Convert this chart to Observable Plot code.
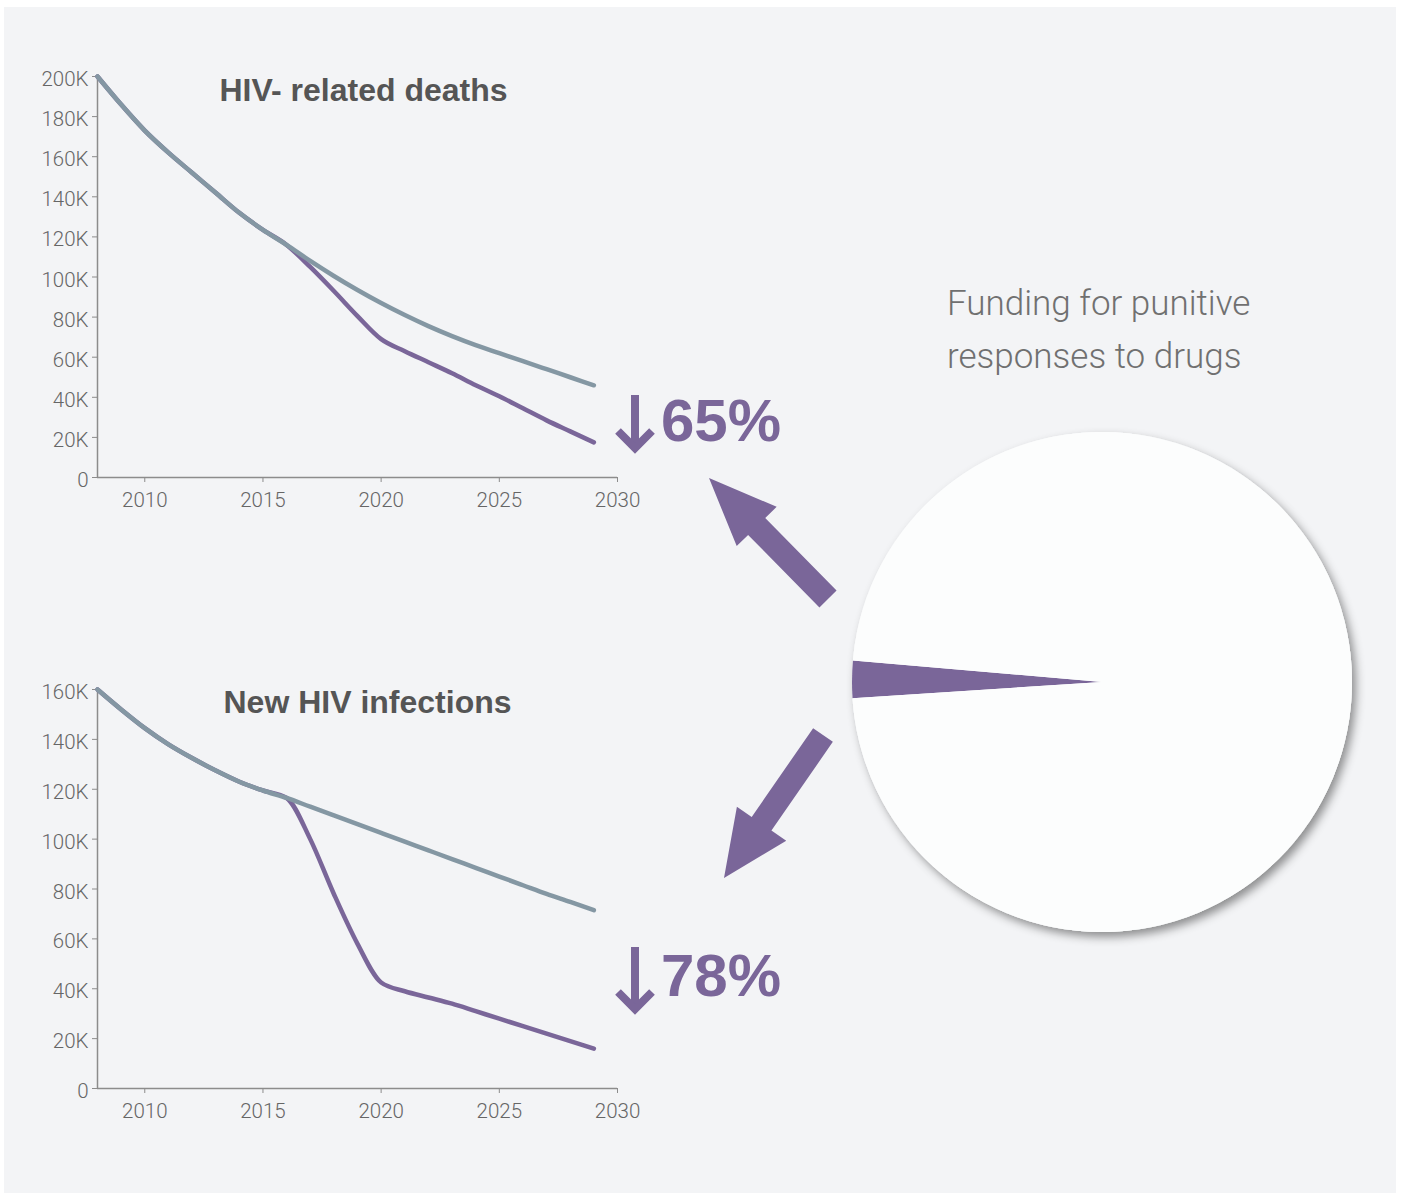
<!DOCTYPE html>
<html><head><meta charset="utf-8">
<script src="https://cdn.jsdelivr.net/npm/d3@7"></script>
<script src="https://cdn.jsdelivr.net/npm/@observablehq/plot@0.6"></script>
<style>
html,body{margin:0;padding:0;background:#fff;}
#root{position:relative;width:1402px;height:1195px;background:#fff;overflow:hidden;}
#panel{position:absolute;left:4px;top:7px;width:1392px;height:1186px;background:#f3f4f6;}
.chart{position:absolute;left:0;}
#overlay{position:absolute;left:0;top:0;}
</style></head><body>
<div id="root"><div id="panel"></div>
<div id="c1" class="chart" style="top:0px"></div>
<div id="c2" class="chart" style="top:600px"></div>
<svg id="overlay" width="1402" height="1195"></svg>
</div>
<script>
// ---- data ----
const years = [2008,2009,2010,2011,2012,2013,2014,2015,2016,2017,2018,2019,2020,2021,2022,2023,2024,2025,2026,2027,2028,2029];
const deathsBaseline = [200000,186000,173000,162000,152000,142000,132000,123500,116000,108000,100500,93500,87000,81000,75500,70500,66000,62000,58000,54000,50000,46000];
const deathsScenario = [200000,186000,173000,162000,152000,142000,132000,123500,116000,105000,93000,80500,69000,63000,57500,52000,46000,40500,34500,28500,23000,17500];
const infectionsBaseline = [160000,152000,144500,138000,132500,127500,123000,119500,116500,113000,109500,106000,102500,99000,95500,92000,88500,85000,81500,78000,74800,71500];
const infectionsScenario = [160000,152000,144500,138000,132500,127500,123000,119500,116500,100000,78000,58000,42500,39000,36500,34000,31000,28000,25000,22000,19000,16000];
const xTicks = [2010,2015,2020,2025,2030];
const deathsTicks = [0,20000,40000,60000,80000,100000,120000,140000,160000,180000,200000];
const infectionsTicks = [0,20000,40000,60000,80000,100000,120000,140000,160000];
const titles = ["HIV- related deaths","New HIV infections"];
const reductions = ["65%","78%"];
const pieLabels = ["Punitive responses to drugs","Other"];
const pieValues = [2.4, 97.6];
const pieTitle = ["Funding for punitive","responses to drugs"];

const purple = "#7a6699";
const grey = "#8497a3";
const axisColor = "#8c8c8c";

function lineChart(el, title, base, scen, yMax, yTicks, height, marginTop, marginBottom, tdx, tdy) {
  const rows = years.map((y,i)=>({year:y, base:base[i], scen:scen[i]}));
  const chart = Plot.plot({
    width:700, height, marginLeft:97, marginRight:83, marginTop, marginBottom,
    style:{background:"transparent", fontFamily:"Roboto, 'Liberation Sans', sans-serif", fontSize:"20.5px", color:"#666", fontWeight:300},
    x:{domain:[2008,2030], label:null},
    y:{domain:[0,yMax], label:null},
    marks:[
      Plot.axisX({ticks:xTicks, tickFormat:"d", tickSize:5, tickPadding:10, stroke:axisColor}),
      Plot.axisY({ticks:yTicks, tickFormat:null, text:null, tickSize:5, stroke:axisColor}),
      Plot.axisY({ticks:yTicks, tickFormat:d=> d===0?"0":(d/1000)+"K", tickSize:0, tickPadding:9, dy:3}),
      Plot.ruleX([2008],{stroke:axisColor, strokeWidth:1.5}),
      Plot.ruleY([0],{stroke:axisColor, strokeWidth:1.5}),
      Plot.line(rows,{x:"year", y:"scen", stroke:purple, strokeWidth:4.5, curve:"monotone-x"}),
      Plot.line(rows,{x:"year", y:"base", stroke:grey, strokeWidth:4.5, curve:"monotone-x"}),
      Plot.text([title],{text:d=>d, frameAnchor:"top", dx:tdx, dy:tdy, lineAnchor:"middle", fontSize:32, fontWeight:"bold", fill:"#555", fontFamily:"'Liberation Sans', Arial, sans-serif"})
    ]
  });
  document.getElementById(el).appendChild(chart);
}
lineChart("c1", titles[0], deathsBaseline, deathsScenario, 200000, deathsTicks, 530, 76, 53, 6, 14);
lineChart("c2", titles[1], infectionsBaseline, infectionsScenario, 160000, infectionsTicks, 540, 89, 52, 10, 13);

// ---- overlay: pie, arrows, labels ----
const svg = d3.select("#overlay");
const defs = svg.append("defs");
const f = defs.append("filter").attr("id","sh").attr("x","-20%").attr("y","-20%").attr("width","140%").attr("height","140%");
f.append("feDropShadow").attr("dx",4).attr("dy",5).attr("stdDeviation",5).attr("flood-color","#000").attr("flood-opacity",0.42);

const start = 266.3*Math.PI/180;
const arcs = d3.pie().sort(null).startAngle(start).endAngle(start+2*Math.PI)(pieValues);
const arc = d3.arc().innerRadius(0).outerRadius(250);
const pg = svg.append("g").attr("transform","translate(1102,682)");
pg.append("circle").attr("r",250).attr("fill","#fcfdfd").attr("filter","url(#sh)");
pg.selectAll("path").data(arcs).join("path").attr("d",arc).attr("fill",(d,i)=> i===0?purple:"#fcfdfd")
  .append("title").text((d,i)=>pieLabels[i]);

svg.append("text").attr("x",947).attr("y",315).attr("font-family","Roboto, 'Liberation Sans', sans-serif")
  .attr("font-weight",300).attr("font-size",35).attr("fill","#707070")
  .selectAll("tspan").data(pieTitle).join("tspan").attr("x",947).attr("dy",(d,i)=>i===0?0:53).text(d=>d);

function blockArrow(tip, tail, L, H, S) {
  const dx = tail[0]-tip[0], dy = tail[1]-tip[1];
  const len = Math.hypot(dx,dy), ux = dx/len, uy = dy/len, nx = -uy, ny = ux;
  const b = [tip[0]+ux*L, tip[1]+uy*L];
  return [tip,
    [b[0]+nx*H, b[1]+ny*H], [b[0]+nx*S, b[1]+ny*S],
    [tail[0]+nx*S, tail[1]+ny*S], [tail[0]-nx*S, tail[1]-ny*S],
    [b[0]-nx*S, b[1]-ny*S], [b[0]-nx*H, b[1]-ny*H]].map(p=>p.join(",")).join(" ");
}
svg.append("polygon").attr("points", blockArrow([709,478],[828,599],68,28,12)).attr("fill",purple);
svg.append("polygon").attr("points", blockArrow([724,878],[823,735],66,30,12)).attr("fill",purple);

function downArrow(x, y0, y1) {
  svg.append("path").attr("d",`M${x},${y0}V${y1-4}`).attr("stroke",purple).attr("stroke-width",8).attr("fill","none");
  svg.append("path").attr("d",`M${x-17},${y1-21}L${x},${y1-4}L${x+17},${y1-21}`).attr("stroke",purple)
    .attr("stroke-width",8).attr("fill","none").attr("stroke-linejoin","miter").attr("stroke-miterlimit",10);
}
downArrow(635,395,452);
downArrow(635,947,1013);
svg.selectAll("text.pct").data(reductions).join("text").attr("class","pct")
  .attr("x",661).attr("y",(d,i)=>i===0?441:996)
  .attr("font-family","'Liberation Sans', Arial, sans-serif").attr("font-weight","bold")
  .attr("font-size",60).attr("fill",purple).text(d=>d);
</script>
</body></html>
